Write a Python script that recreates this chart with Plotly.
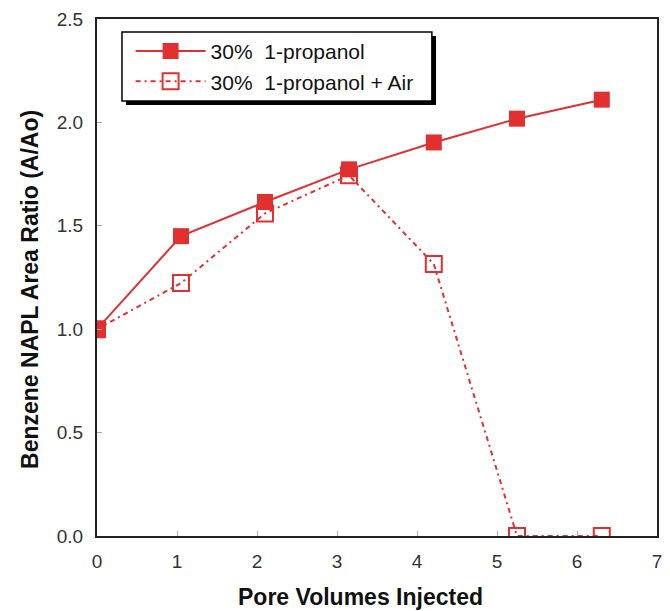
import plotly.graph_objects as go

pv_solid = [0, 1.05, 2.1, 3.15, 4.21, 5.25, 6.31]
ratio_solid = [1.0, 1.45, 1.615, 1.773, 1.903, 2.018, 2.11]
pv_air = [0, 1.05, 2.1, 3.15, 4.21, 5.25, 6.31]
ratio_air = [1.0, 1.223, 1.56, 1.744, 1.315, 0.0, 0.0]
x_ticks = [0, 1, 2, 3, 4, 5, 6, 7]
y_ticks = [0.0, 0.5, 1.0, 1.5, 2.0, 2.5]

red = "#e0302f"
fig = go.Figure()
fig.add_trace(go.Scatter(x=pv_solid, y=ratio_solid, mode="lines+markers",
                         name="30%  1-propanol",
                         line=dict(color=red, width=2),
                         marker=dict(symbol="square", size=16, color=red)))
fig.add_trace(go.Scatter(x=pv_air, y=ratio_air, mode="lines+markers",
                         name="30%  1-propanol + Air",
                         line=dict(color=red, width=2, dash="5px,4px,2px,4px"),
                         marker=dict(symbol="square-open", size=16, color=red,
                                     line=dict(width=2, color=red))))

font = "Liberation Sans, Arial, sans-serif"
fig.update_layout(
    width=670, height=611,
    margin=dict(l=97, r=13, t=19, b=75),
    plot_bgcolor="white", paper_bgcolor="white",
    font=dict(family=font, size=19, color="#222"),
    showlegend=True,
    legend=dict(x=0.06, y=0.977, xanchor="left", yanchor="top",
                bgcolor="rgba(0,0,0,0)", borderwidth=0,
                font=dict(size=21, color="#111"), itemwidth=70,
                tracegroupgap=0),
    xaxis=dict(range=[0, 7], tickvals=x_ticks, ticks="inside", ticklen=5,
               tickcolor="#aaa", showline=True, linecolor="#222", linewidth=2,
               mirror=True, showgrid=False, zeroline=False, automargin=False,
               ticklabelstandoff=7,
               tickfont=dict(size=19, color="#333")),
    yaxis=dict(range=[0, 2.5], tickvals=y_ticks, tickformat=".1f", ticks="inside", ticklen=5,
               tickcolor="#aaa", showline=True, linecolor="#222", linewidth=2,
               mirror=True, showgrid=False, zeroline=False, automargin=False,
               ticklabelstandoff=8,
               tickfont=dict(size=19, color="#333")),
)
fig.add_annotation(text="<b>Pore Volumes Injected</b>", xref="paper", yref="paper",
                   x=0.47, y=-0.118, showarrow=False, xanchor="center", yanchor="middle",
                   font=dict(size=23, color="#111"))
fig.add_annotation(text="<b>Benzene NAPL Area Ratio (A/Ao)</b>", xref="paper", yref="paper",
                   x=-0.1196, y=0.476, showarrow=False, xanchor="center", yanchor="middle",
                   textangle=-90, font=dict(size=23, color="#111"))
# legend shadow and box
fig.add_shape(type="rect", xref="paper", yref="paper",
              x0=0.0518, x1=0.6054, y0=0.8337, y1=0.9671,
              fillcolor="black", line=dict(width=0), layer="above")
fig.add_shape(type="rect", xref="paper", yref="paper",
              x0=0.0446, x1=0.598, y0=0.8414, y1=0.9749,
              fillcolor="white", line=dict(width=1.5, color="black"), layer="above")
fig.write_html("out.html")
